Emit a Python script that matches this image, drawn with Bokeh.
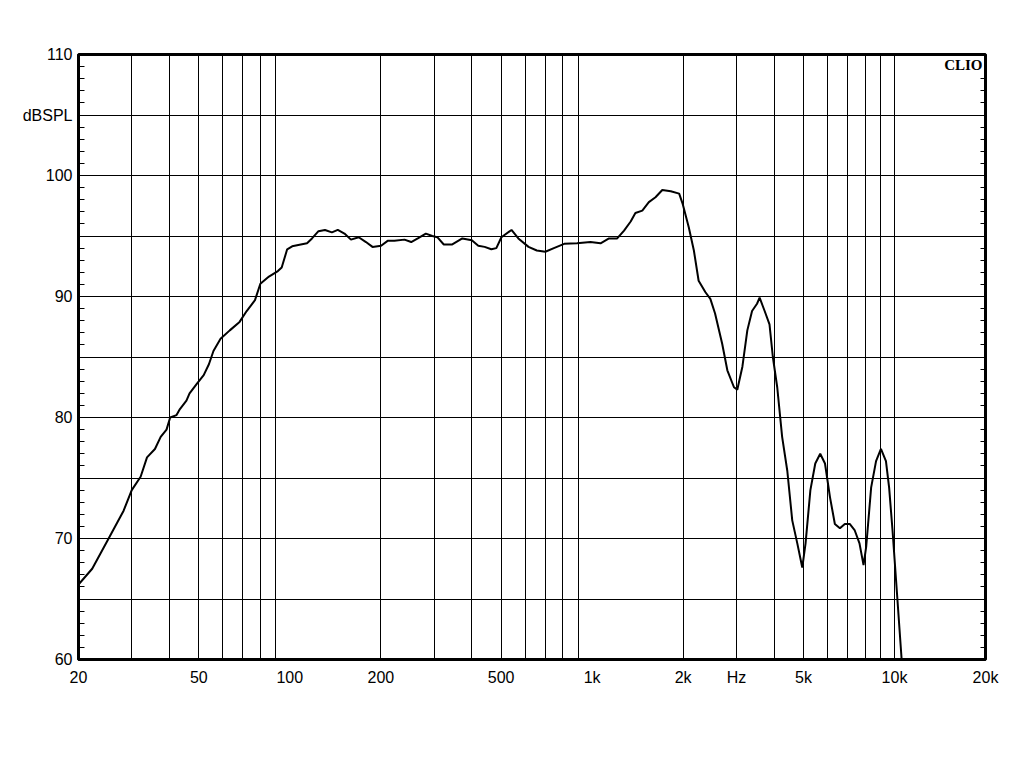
from bokeh.plotting import figure
from bokeh.models import FixedTicker, LinearAxis, Label
from bokeh.embed import file_html
from bokeh.resources import INLINE

# Frequency response data (Hz, dBSPL)
freq = [20, 22.2, 24.9, 28.2, 30, 32.1, 33.7, 35.8, 37.4, 39.1, 40.2, 42.2, 43.3,
        45.5, 46.6, 49.3, 51.9, 54, 55.9, 59, 63.3, 68.2, 72, 76.7, 79.9, 85.3,
        91.3, 94, 98, 101.8, 108.7, 114, 118.4, 124.4, 130.7, 137.8, 144.1,
        151.6, 159.3, 169, 178.6, 187.7, 200.4, 210.6, 221.7, 239.5, 252, 265,
        281.8, 296, 307.5, 323, 344.6, 372, 400, 420, 441, 464, 482, 501, 541,
        570, 616, 656, 700, 747, 808, 891, 987, 1066, 1137, 1210, 1275, 1341,
        1390, 1465, 1540, 1620, 1706, 1820, 1940, 1990, 2088, 2170, 2250, 2370,
        2460, 2550, 2692, 2800, 2945, 3020, 3140, 3260, 3380, 3510, 3580, 3720,
        3860, 3960, 4094, 4250, 4420, 4590, 4770, 4954, 5080, 5270, 5470, 5680,
        5890, 6120, 6350, 6600, 6850, 7110, 7380, 7660, 7900, 8060, 8370, 8690,
        9020, 9370, 9600, 9850, 10230, 10560]
spl = [66.2, 67.5, 69.8, 72.3, 74.0, 75.1, 76.7, 77.4, 78.4, 79.0, 80.0, 80.2, 80.7,
       81.4, 82.0, 82.8, 83.5, 84.4, 85.5, 86.5, 87.2, 87.9, 88.8, 89.7, 91.05, 91.65,
       92.1, 92.4, 93.9, 94.15, 94.3, 94.4, 94.8, 95.4, 95.5, 95.3, 95.5,
       95.2, 94.7, 94.9, 94.5, 94.1, 94.2, 94.6, 94.6, 94.7, 94.5, 94.8,
       95.2, 95.0, 94.9, 94.3, 94.3, 94.8, 94.65, 94.2, 94.1, 93.9, 94.0, 94.9, 95.5,
       94.8, 94.1, 93.8, 93.7, 94.0, 94.35, 94.4, 94.5, 94.4, 94.8, 94.8, 95.45, 96.2,
       96.9, 97.1, 97.8, 98.2, 98.8, 98.7, 98.5, 97.7, 95.7, 93.8, 91.3, 90.35,
       89.8, 88.6, 86.1, 83.9, 82.5, 82.3, 84.2, 87.2, 88.8, 89.4, 89.9, 88.8,
       87.7, 85.0, 82.5, 78.4, 75.6, 71.5, 69.6, 67.6, 69.6, 74.0, 76.2, 77.0,
       76.2, 73.4, 71.2, 70.85, 71.2, 71.2, 70.7, 69.6, 67.8, 69.3, 74.2, 76.4,
       77.4, 76.4, 74.2, 70.7, 64.9, 60.0]

x_tick_values = [20, 50, 100, 200, 500, 1000, 2000, 3000, 5000, 10000, 20000]
x_tick_labels = ["20", "50", "100", "200", "500", "1k", "2k", "Hz", "5k", "10k", "20k"]
x_grid_values = [m * d for d in (10, 100, 1000) for m in range(2, 10)] + \
                [10000 * m for m in range(1, 3)]
x_grid_values = [v for v in x_grid_values if 20 <= v <= 20000]
y_tick_values = [60, 70, 80, 90, 100, 105, 110]
y_tick_labels = ["60", "70", "80", "90", "100", "dBSPL", "110"]
y_grid_values = list(range(60, 111, 5))
y_minor_values = list(range(60, 111))
y_minor_right = [v for v in y_minor_values if v != 109]  # hidden behind "CLIO"

FONT = "Liberation Sans"

p = figure(width=1000, height=740, x_axis_type="log",
           x_range=(20, 20000), y_range=(60, 110),
           output_backend="svg", toolbar_location=None,
           min_border_left=78, min_border_right=15,
           min_border_top=54, min_border_bottom=81)
p.background_fill_color = "white"
p.border_fill_color = "white"
p.outline_line_color = "black"
p.outline_line_width = 3

# Grids
p.xgrid.ticker = FixedTicker(ticks=x_grid_values)
p.ygrid.ticker = FixedTicker(ticks=y_grid_values)
for g in (p.xgrid, p.ygrid):
    g.grid_line_color = "black"
    g.grid_line_width = 1
    g.grid_line_alpha = 1.0

# X axis
xa = p.xaxis[0]
xa.ticker = FixedTicker(ticks=x_tick_values)
xa.major_label_overrides = {v: l for v, l in zip(x_tick_values, x_tick_labels)}
xa.major_tick_in = 0
xa.major_tick_out = 0
xa.minor_tick_in = 0
xa.minor_tick_out = 0
xa.axis_line_color = "black"
xa.axis_line_width = 3
xa.major_label_standoff = 9
xa.major_label_text_font = FONT
xa.major_label_text_font_size = "16px"
xa.major_label_text_color = "black"

# Y axis (left)
ya = p.yaxis[0]
ya.ticker = FixedTicker(ticks=y_tick_values, minor_ticks=y_minor_values)
ya.major_label_overrides = {v: l for v, l in zip(y_tick_values, y_tick_labels)}
ya.major_tick_in = 6
ya.major_tick_out = 0
ya.minor_tick_in = 6
ya.minor_tick_out = 0
ya.major_tick_line_color = "black"
ya.minor_tick_line_color = "black"
ya.axis_line_color = "black"
ya.axis_line_width = 3
ya.major_label_standoff = 6
ya.major_label_text_font = FONT
ya.major_label_text_font_size = "16px"
ya.major_label_text_color = "black"

# Right axis with inward ticks only
ra = LinearAxis(ticker=FixedTicker(ticks=y_tick_values, minor_ticks=y_minor_right))
ra.major_tick_in = 5
ra.major_tick_out = 0
ra.minor_tick_in = 5
ra.minor_tick_out = 0
ra.major_tick_line_color = "black"
ra.minor_tick_line_color = "black"
ra.axis_line_color = "black"
ra.axis_line_width = 2
ra.major_label_text_color = None
ra.major_label_text_font_size = "1px"
ra.major_label_standoff = 0
p.add_layout(ra, "right")

p.line(freq, spl, line_color="black", line_width=2)

clio = Label(x=20000, y=110, text="CLIO", text_font="Liberation Serif",
             text_font_style="bold", text_font_size="15px", text_color="black",
             text_align="right", text_baseline="top", x_offset=-3, y_offset=-2,
             background_fill_color="white")
p.add_layout(clio)

open("out.html", "w").write(file_html(p, INLINE))
